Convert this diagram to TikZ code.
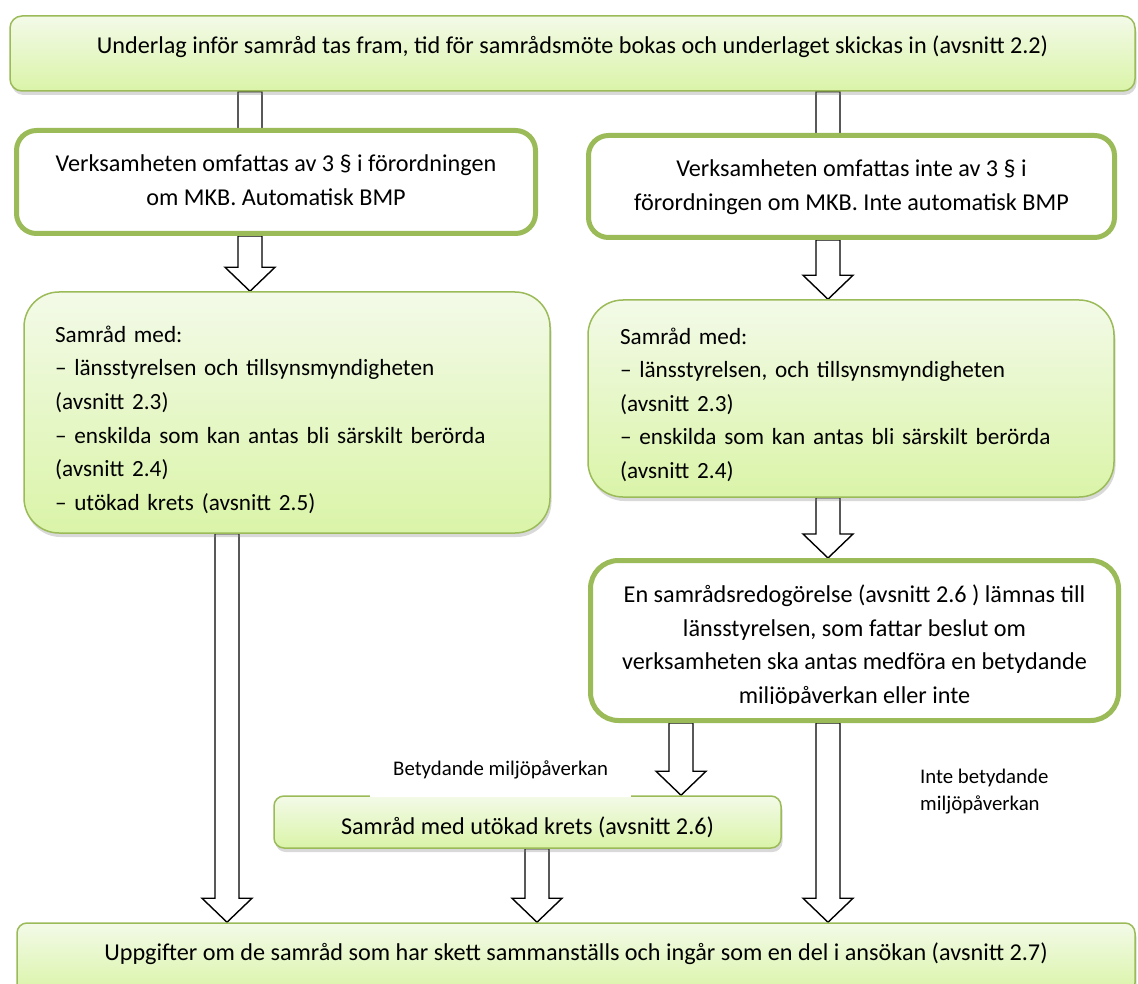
\documentclass[tikz,border=0pt]{standalone}
\usepackage{fontspec}
\setmainfont{Carlito}
\usetikzlibrary{calc,shadows}
\definecolor{og}{HTML}{9BBB59}
\definecolor{gtop}{HTML}{F3FAE8}
\definecolor{gbot}{HTML}{DAF4A8}
\pgfdeclarelayer{bg}
\pgfsetlayers{bg,main}
\newcommand\blockarrow[2]{%
  \draw[barrow] let \p1=#1, \p2=#2 in
   (\x1-12pt,\y1) -- (\x1+12pt,\y1) -- (\x1+12pt,\y2+24pt) -- (\x1+25pt,\y2+24pt)
   -- (\x1,\y2) -- (\x1-25pt,\y2+24pt) -- (\x1-12pt,\y2+24pt) -- cycle;}
\newcommand\topstrut[1]{\rule{0pt}{#1}}
\tikzset{
  basebox/.style={font=\fontsize{24.2}{33.6}\selectfont, inner sep=0pt},
  gbox/.style={basebox, draw=og, line width=1.5pt, top color=gtop, bottom color=gbot,
    drop shadow={opacity=0.3, shadow xshift=1.5pt, shadow yshift=-4pt}},
  wbox/.style={basebox, draw=og, line width=5pt, fill=white},
  listfont/.style={font=\fontsize{23.2}{33.6}\selectfont},
  barrow/.style={draw=black, line width=1.4pt, fill=white, line join=miter},
  lab/.style={font=\fontsize{20.8}{27}\selectfont, inner sep=0pt, align=left}
}
\begin{document}
\begin{tikzpicture}[x=1pt,y=-1pt]
\useasboundingbox (0,0) rectangle (1138,984);
% columns for the block arrows
\coordinate (cA) at (250,0);
\coordinate (cB) at (828,0);
\coordinate (cC) at (227,0);
\coordinate (cD) at (681,0);
\coordinate (cE) at (537,0);

\node[gbox, rounded corners=12pt, minimum width=1125pt, minimum height=75pt,
  text height=14pt, text depth=14pt] (top) at (572.5,53.5)
  {Underlag inför samråd tas fram, tid för samrådsmöte bokas och underlaget skickas in (avsnitt 2.2)};

\node[wbox, rounded corners=20pt, minimum width=519pt, minimum height=103pt, align=center]
  (wL) at (276,182)
  {\strut Verksamheten omfattas av 3 § i förordningen\\om MKB. Automatisk BMP\strut};

\node[wbox, rounded corners=20pt, minimum width=526pt, minimum height=102pt, align=center]
  (wR) at (851.5,186.5)
  {\strut Verksamheten omfattas inte av 3 § i\\förordningen om MKB. Inte automatisk BMP\strut};

\node[gbox, listfont, rounded corners=35pt, minimum width=526pt, minimum height=241pt,
  text width=464pt, align=left] (samL) at (287,412.5)
  {\topstrut{37.5pt}Samråd med:\\– länsstyrelsen och tillsynsmyndigheten\\(avsnitt 2.3)\\– enskilda som kan antas bli särskilt berörda\\(avsnitt 2.4)\\– utökad krets (avsnitt 2.5)\strut};

\node[gbox, listfont, rounded corners=35pt, minimum width=526pt, minimum height=197pt,
  text width=462pt, align=left] (samR) at (851,398.5)
  {\topstrut{35.5pt}Samråd med:\\– länsstyrelsen, och tillsynsmyndigheten\\(avsnitt 2.3)\\– enskilda som kan antas bli särskilt berörda\\(avsnitt 2.4)\strut};

\node[wbox, rounded corners=28pt, minimum width=528pt, minimum height=160pt]
  (dec) at (854.5,640.5) {};
\begin{scope}
  \clip (588,558) rectangle (1121,703.5);
  \node[basebox, align=center] (dect) at (854.5,646.3)
    {\strut En samrådsredogörelse (avsnitt 2.6 ) lämnas till\\länsstyrelsen, som fattar beslut om\\verksamheten ska antas medföra en betydande\\miljöpåverkan eller inte\strut};
\end{scope}

\node[gbox, rounded corners=10pt, minimum width=507pt, minimum height=52pt,
  text height=26pt, text depth=2pt] (utk) at (527.5,822)
  {Samråd med utökad krets (avsnitt 2.6)};

\node[gbox, rounded corners=10pt, minimum width=1118pt, minimum height=70pt,
  text height=14pt, text depth=10pt] (bot) at (576,958)
  {Uppgifter om de samråd som har skett sammanställs och ingår som en del i ansökan (avsnitt 2.7)};

\node[lab, fill=white, anchor=base west, inner xsep=23pt, text height=20pt, text depth=22pt]
  (lab1) at (370,775) {Betydande miljöpåverkan};
\node[lab, anchor=north west] (lab2) at (920,764.1) {\strut Inte betydande\\miljöpåverkan};

\begin{pgfonlayer}{bg}
  \blockarrow{(top.south -| cA)}{(wL.center -| cA)}
  \blockarrow{(top.south -| cB)}{(wR.center -| cB)}
  \blockarrow{(wL.south -| cA)}{(samL.north -| cA)}
  \blockarrow{(wR.south -| cB)}{(samR.north -| cB)}
  \blockarrow{(samR.south -| cB)}{(dec.north -| cB)}
  \blockarrow{(samL.south -| cC)}{(bot.north -| cC)}
  \blockarrow{(dec.south -| cD)}{(utk.north -| cD)}
  \blockarrow{(dec.south -| cB)}{(bot.north -| cB)}
  \blockarrow{(utk.south -| cE)}{(bot.north -| cE)}
\end{pgfonlayer}
\end{tikzpicture}
\end{document}
